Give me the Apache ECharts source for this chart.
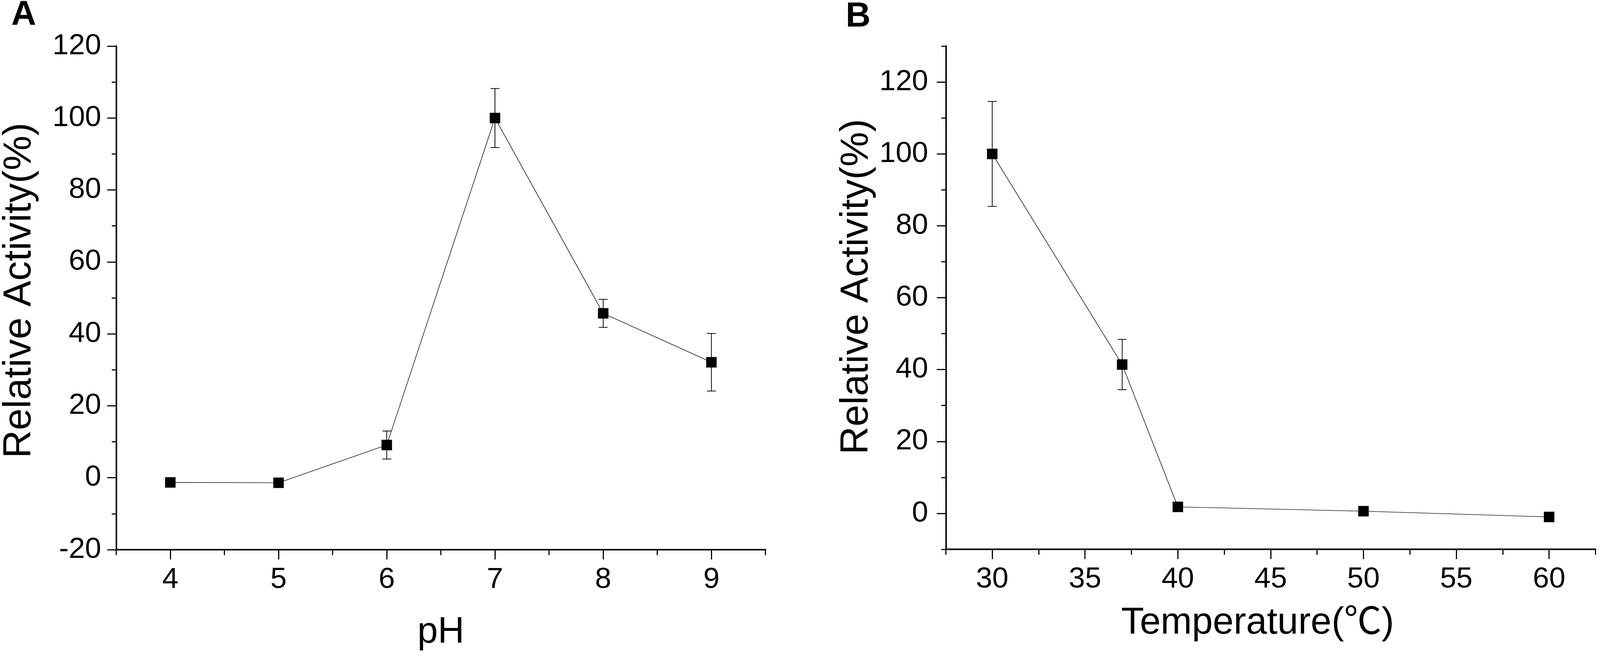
<!DOCTYPE html>
<html>
<head>
<meta charset="utf-8">
<script src="https://cdn.jsdelivr.net/npm/echarts@6/dist/echarts.min.js"></script>
<style>
    html, body { margin: 0; padding: 0; background: #fff; overflow: hidden; }
    #container { width: 100vw; height: 100vh; }
</style>
</head>
<body>
<div id="container"></div>
<script>
    // panel A: pH
    const phX = [4, 5, 6, 7, 8, 9];
    const phY = [-1.3, -1.4, 9.1, 100, 45.7, 32.1];
    const phErr = [0, 0, 3.9, 8.2, 3.9, 8.0];
    const phTicks = [4, 5, 6, 7, 8, 9];

    // panel B: temperature
    const tempX = [30, 37, 40, 50, 60];
    const tempY = [100, 41.4, 1.8, 0.6, -1.0];
    const tempErr = [14.6, 7.0, 0, 0, 0];
    const tempTicks = [30, 35, 40, 45, 50, 55, 60];
    const tempYTicks = [0, 20, 40, 60, 80, 100, 120];

    const sans = "'Liberation Sans', Arial, 'Noto Sans CJK SC', sans-serif";
    const black = '#000';

    let dom = document.getElementById('container');
    // page was laid out for 4268x1688, scale to whatever viewport we get
    const sx = dom.clientWidth / 4268;
    const sy = dom.clientHeight / 1688;
    function X(v) { return v * sx; }
    function Y(v) { return v * sy; }

    function points(xs, ys) {
        return xs.map(function (x, i) { return [x, ys[i]]; });
    }
    function bars(xs, ys, es) {
        let out = [];
        xs.forEach(function (x, i) {
            if (es[i] > 0) out.push([x, ys[i] - es[i], ys[i] + es[i]]);
        });
        return out;
    }
    // error bar with caps
    function errorBar(params, api) {
        let x = api.value(0);
        let top = api.coord([x, api.value(2)]);
        let bot = api.coord([x, api.value(1)]);
        let w = X(12);
        let st = { stroke: black, lineWidth: X(2) };
        return {
            type: 'group',
            children: [
                { type: 'line', shape: { x1: top[0], y1: top[1], x2: bot[0], y2: bot[1] }, style: st },
                { type: 'line', shape: { x1: top[0] - w, y1: top[1], x2: top[0] + w, y2: top[1] }, style: st },
                { type: 'line', shape: { x1: bot[0] - w, y1: bot[1], x2: bot[0] + w, y2: bot[1] }, style: st }
            ]
        };
    }

    function tick(len, vals) {
        let t = { show: true, inside: false, length: len, lineStyle: { color: black, width: X(3) } };
        if (vals) t.customValues = vals;
        return t;
    }
    function label(fmtList, margin) {
        return {
            color: black, fontSize: X(78), fontFamily: sans, margin: margin,
            formatter: function (v) { return fmtList.indexOf(v) >= 0 ? String(v) : ''; }
        };
    }
    function mainAxis(o) {
        return Object.assign({
            type: 'value',
            axisLine: { show: true, onZero: false, lineStyle: { color: black, width: X(4) } },
            splitLine: { show: false }
        }, o);
    }
    function overlayAxis(o) {
        return Object.assign({
            type: 'value',
            offset: 0,
            axisLine: { show: false, onZero: false },
            axisLabel: { show: false },
            splitLine: { show: false }
        }, o);
    }

    let myChart = echarts.init(dom);
    let option = {
        animation: false,
        backgroundColor: '#fff',
        title: [
            { text: 'A', left: X(30), top: Y(-4), padding: 0, textStyle: { fontSize: X(92), fontWeight: 'bold', fontFamily: sans, color: black } },
            { text: 'B', left: X(2256), top: Y(0), padding: 0, textStyle: { fontSize: X(92), fontWeight: 'bold', fontFamily: sans, color: black } }
        ],
        grid: [
            { left: X(307), top: Y(118), width: X(1735), height: Y(1290) },
            { left: X(2523), top: Y(118), width: X(1733), height: Y(1289) }
        ],
        xAxis: [
            mainAxis({
                gridIndex: 0, position: 'bottom', min: 3.5, max: 9.5, interval: 0.5,
                axisTick: tick(Y(14)),
                axisLabel: label(phTicks, Y(40)),
                name: 'pH', nameLocation: 'middle', nameGap: Y(165),
                nameTextStyle: { fontSize: X(98), fontFamily: sans, color: black }
            }),
            overlayAxis({
                gridIndex: 0, position: 'bottom', min: 3.5, max: 9.5, interval: 0.5,
                axisTick: tick(Y(25), phTicks)
            }),
            mainAxis({
                gridIndex: 1, position: 'bottom', min: 27.5, max: 62.5, interval: 2.5,
                axisTick: tick(Y(14)),
                axisLabel: label(tempTicks, Y(40)),
                name: 'Temperature(℃)', nameLocation: 'middle', nameGap: Y(142),
                nameTextStyle: { fontSize: X(100), fontFamily: sans, color: black, padding: [0, X(70), 0, 0] }
            }),
            overlayAxis({
                gridIndex: 1, position: 'bottom', min: 27.5, max: 62.5, interval: 2.5,
                axisTick: tick(Y(25), tempTicks)
            })
        ],
        yAxis: [
            mainAxis({
                gridIndex: 0, position: 'left', min: -20, max: 120, interval: 20,
                axisTick: tick(X(24)),
                minorTick: { show: true, splitNumber: 2, length: X(12), lineStyle: { color: black, width: X(3) } },
                axisLabel: label([-20, 0, 20, 40, 60, 80, 100, 120], X(40)),
                name: 'Relative Activity(%)', nameLocation: 'middle', nameGap: X(205),
                nameTextStyle: { fontSize: X(104), fontFamily: sans, color: black, padding: [0, 0, 0, Y(38)] }
            }),
            mainAxis({
                gridIndex: 1, position: 'left', min: -10, max: 130, interval: 10,
                axisTick: tick(X(12)),
                axisLabel: label(tempYTicks, X(47)),
                name: 'Relative Activity(%)', nameLocation: 'middle', nameGap: X(185),
                nameTextStyle: { fontSize: X(104), fontFamily: sans, color: black, padding: [0, 0, 0, Y(56)] }
            }),
            overlayAxis({
                gridIndex: 1, position: 'left', min: -10, max: 130, interval: 10,
                axisTick: tick(X(24), tempYTicks)
            })
        ],
        series: [
            {
                type: 'custom', xAxisIndex: 0, yAxisIndex: 0,
                renderItem: errorBar, data: bars(phX, phY, phErr), z: 2
            },
            {
                type: 'line', xAxisIndex: 0, yAxisIndex: 0,
                data: points(phX, phY),
                symbol: 'rect', symbolSize: X(28),
                itemStyle: { color: black },
                lineStyle: { color: black, width: X(1.5) },
                z: 3
            },
            {
                type: 'custom', xAxisIndex: 2, yAxisIndex: 1,
                renderItem: errorBar, data: bars(tempX, tempY, tempErr), z: 2
            },
            {
                type: 'line', xAxisIndex: 2, yAxisIndex: 1,
                data: points(tempX, tempY),
                symbol: 'rect', symbolSize: X(28),
                itemStyle: { color: black },
                lineStyle: { color: black, width: X(1.5) },
                z: 3
            }
        ]
    };
    if (option && typeof option === 'object') {
        myChart.setOption(option);
    }
</script>
</body>
</html>
